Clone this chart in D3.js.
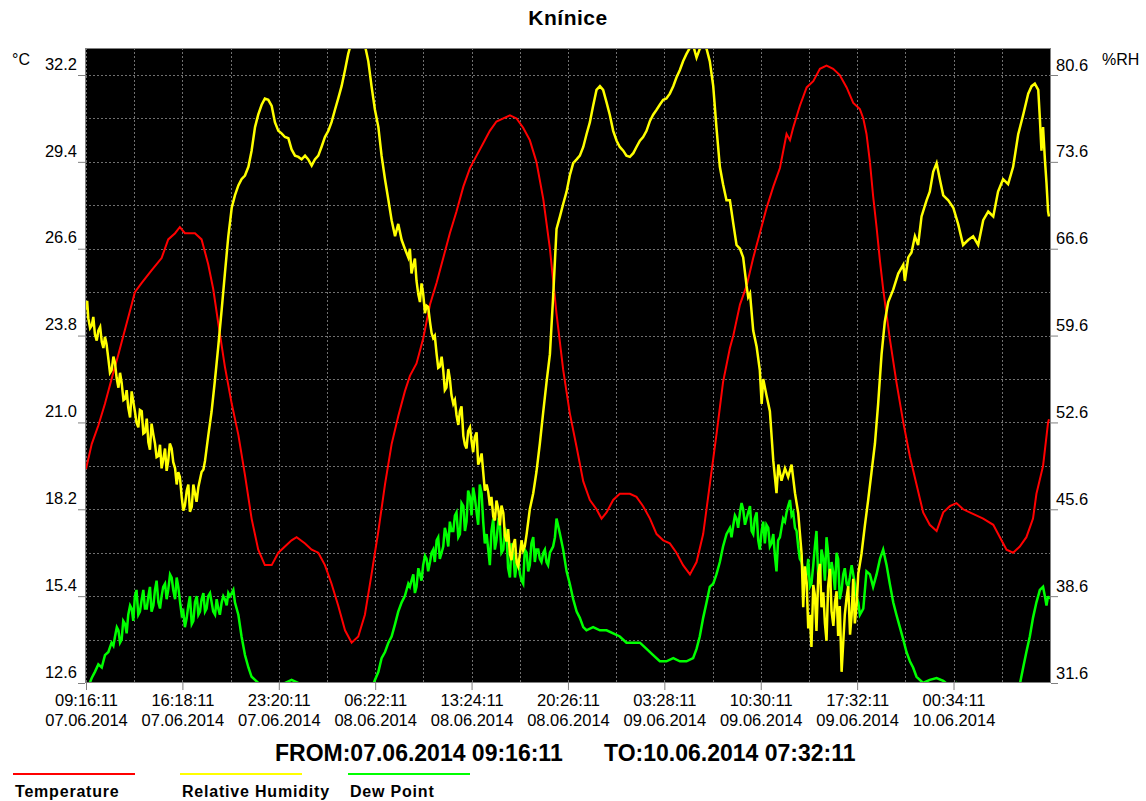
<!DOCTYPE html>
<html>
<head>
<meta charset="utf-8">
<script src="https://cdnjs.cloudflare.com/ajax/libs/d3/7.8.5/d3.min.js"></script>
<style>
  body { margin: 0; background: #fff; }
  text { font-family: "Liberation Sans", Arial, sans-serif; }
</style>
</head>
<body>
<script>
// chart box
var width = 1146;
var height = 801;
var plot = {left: 85, right: 1051, top: 48, bottom: 683};

// time base: readings are [minutes since start, value]
var startTime = new Date(2014, 5, 7, 9, 16, 11);
var endMinute = 4216;
var xTickMinutes = [0, 422, 844, 1266, 1688, 2110, 2532, 2954, 3376, 3798];
var tempTicks = [12.6, 15.4, 18.2, 21.0, 23.8, 26.6, 29.4, 32.2];
var rhTicks = [31.6, 38.6, 45.6, 52.6, 59.6, 66.6, 73.6, 80.6];
var seriesNames = ["Temperature", "Relative Humidity", "Dew Point"];
var seriesColors = ["#ff0000", "#ffff00", "#00ff00"];

var temperature = [
  [0,19.5],[25,20.3],[54,20.9],[83,21.6],[112,22.4],[142,23.2],[171,24.0],[200,24.8],[214,25.2],[244,25.5],
  [287,25.9],[331,26.3],[360,26.9],[390,27.1],[411,27.3],[433,27.1],[477,27.1],[506,26.9],[535,26.1],[557,25.3],
  [579,24.2],[608,22.8],[638,21.6],[667,20.6],[696,19.3],[725,17.9],[754,16.9],[783,16.4],[813,16.4],[842,16.8],
  [871,17.0],[900,17.2],[922,17.3],[959,17.1],[988,16.9],[1017,16.8],[1046,16.4],[1075,15.8],[1104,15.1],[1134,14.3],
  [1163,13.9],[1192,14.1],[1221,14.8],[1250,16.1],[1280,17.5],[1309,19.0],[1338,20.3],[1367,21.2],[1396,22.0],[1418,22.5],
  [1447,22.9],[1476,23.7],[1506,24.8],[1535,25.5],[1564,26.3],[1593,27.1],[1622,27.8],[1652,28.6],[1681,29.2],[1710,29.6],
  [1739,30.0],[1768,30.4],[1797,30.7],[1827,30.8],[1856,30.9],[1885,30.8],[1914,30.5],[1943,30.1],[1972,29.4],[2002,28.2],
  [2031,26.6],[2060,24.5],[2089,22.7],[2118,21.3],[2148,20.2],[2177,19.1],[2206,18.5],[2235,18.2],[2257,17.9],[2279,18.1],
  [2308,18.5],[2337,18.7],[2381,18.7],[2410,18.6],[2439,18.3],[2469,17.9],[2498,17.4],[2527,17.2],[2556,17.1],[2585,16.8],
  [2614,16.4],[2644,16.1],[2673,16.5],[2702,17.4],[2731,19.0],[2760,20.6],[2789,22.3],[2819,23.4],[2834,23.8],[2863,24.8],
  [2892,25.4],[2921,26.3],[2950,27.1],[2979,27.9],[3009,28.6],[3038,29.2],[3067,30.3],[3082,30.1],[3096,30.5],[3125,31.2],
  [3155,31.8],[3184,32.0],[3213,32.4],[3242,32.5],[3271,32.4],[3300,32.2],[3330,31.8],[3359,31.3],[3388,31.1],[3403,30.8],
  [3417,30.3],[3432,29.4],[3446,28.3],[3461,27.3],[3476,26.2],[3490,25.3],[3519,23.7],[3548,22.3],[3578,21.0],[3607,19.9],
  [3636,19.0],[3665,18.1],[3694,17.7],[3724,17.5],[3753,18.1],[3782,18.3],[3811,18.4],[3840,18.2],[3869,18.1],[3928,17.9],
  [3972,17.7],[4001,17.3],[4030,16.9],[4059,16.8],[4088,17.0],[4117,17.3],[4146,17.9],[4161,18.7],[4190,19.6],[4212,21.0],
  [4216,21.1]
];

var humidity = [
  [0,61.7],[10,61.0],[25,60.4],[39,59.7],[54,60.0],[69,59.1],[83,59.5],[98,57.7],[112,56.8],[127,57.4],
  [142,55.4],[156,55.8],[171,54.5],[185,53.8],[200,55.1],[214,53.5],[229,52.2],[244,53.5],[258,51.8],[273,51.0],
  [287,52.5],[302,50.9],[317,49.9],[331,48.9],[346,50.5],[360,49.5],[375,50.5],[390,48.9],[404,48.6],[419,46.6],
  [433,45.9],[448,47.6],[463,45.8],[477,46.9],[492,47.4],[506,48.6],[521,49.5],[535,51.5],[550,53.5],[565,56.1],
  [579,58.7],[594,61.7],[608,64.6],[623,67.6],[638,69.9],[652,70.9],[667,71.7],[681,72.2],[696,72.5],[711,73.2],
  [725,74.5],[740,76.4],[754,77.4],[769,78.2],[783,78.7],[798,78.6],[813,78.1],[827,76.8],[842,76.1],[856,75.9],
  [871,75.6],[886,75.5],[900,74.6],[915,74.1],[930,74.0],[944,73.8],[959,74.1],[973,73.8],[988,73.3],[1002,73.8],
  [1017,74.1],[1031,74.8],[1046,75.6],[1061,76.1],[1075,76.8],[1090,77.8],[1104,78.7],[1119,79.7],[1134,81.0],[1148,82.3],
  [1163,83.3],[1177,84.3],[1192,84.3],[1207,83.7],[1221,83.0],[1236,81.7],[1250,79.7],[1265,77.8],[1280,76.4],[1294,74.1],
  [1309,72.2],[1324,70.5],[1338,68.9],[1353,67.6],[1367,68.6],[1382,67.3],[1396,66.6],[1411,65.9],
  [5,62.4],[18,60.2],[32,61.1],[47,59.2],[62,60.3],[76,58.6],[90,58.9],[105,56.6],[120,57.9],[134,56.2],
  [149,56.6],[164,54.4],[178,55.2],[193,53.0],[207,54.3],[221,52.6],[236,53.6],[251,51.7],[266,52.9],[280,50.4],
  [295,51.6],[309,49.8],[324,50.8],[338,49.6],[353,48.7],[367,50.9],[382,49.4],[397,47.6],[411,48.2],[426,45.5],
  [441,47.1],[455,45.4],[470,47.6],[484,46.2],[499,48.0],[514,48.8],
  [1418,66.6],[1433,65.3],[1447,64.0],[1462,62.3],[1476,63.0],[1491,62.0],[1506,60.7],[1520,59.4],[1535,58.1],[1549,57.1],
  [1564,56.8],[1578,55.4],[1593,56.1],[1608,54.1],[1622,53.2],[1637,53.5],[1652,51.5],[1666,50.5],[1681,52.2],[1695,50.2],
  [1710,51.8],[1724,49.5],[1739,48.6],[1754,47.6],[1768,45.9],[1783,45.0],[1797,46.3],[1812,44.3],[1827,45.3],[1841,43.0],
  [1856,42.0],[1870,42.7],[1885,41.3],[1900,42.0],[1914,42.3],[1929,43.6],[1943,45.6],[1958,46.9],[1972,48.6],[1987,50.9],
  [2002,53.5],[2016,55.8],[2031,58.1],[2045,62.7],[2060,68.2],[2075,69.2],[2089,70.2],[2104,71.2],[2118,72.5],[2133,73.5],
  [2148,73.8],[2162,74.1],[2177,74.8],[2191,75.8],[2206,76.8],[2220,78.1],[2235,79.4],[2250,79.7],[2264,79.4],[2279,78.4],
  [2293,77.4],[2308,76.1],[2323,75.3],[2337,74.8],[2352,74.5],[2366,74.1],[2381,74.0],[2396,74.3],[2410,74.8],[2425,75.3],
  [2439,75.6],[2454,76.1],[2469,76.9],[2483,77.4],[2498,77.8],[2512,78.2],[2527,78.6],[2541,78.7],[2556,79.1],[2571,79.7],
  [2585,80.4],[2600,81.0],[2614,81.7],[2629,82.3],[2644,82.8],[2658,83.0],[2673,82.0],[2687,82.7],[2702,83.0],[2717,82.7],
  [2731,81.7],[2746,79.7],[2760,76.4],[2775,73.2],[2789,71.8],[2804,70.5],
  [1425,64.6],[1440,65.8],[1455,62.9],[1469,63.8],[1484,61.4],[1498,61.9],[1513,59.8],[1527,59.6],[1542,57.0],[1557,57.9],
  [1571,55.2],[1586,56.9],[1600,54.8],[1615,54.4],[1630,52.4],[1644,53.9],[1659,50.8],[1673,51.9],[1688,51.1],[1702,51.4],
  [1717,49.2],[1732,50.1],[1746,47.1],[1761,47.0],[1775,46.6],[1790,44.7],[1805,45.6],[1819,45.9],[1834,43.5],[1848,44.0],
  [1863,41.5],[1878,43.2],[1892,41.0],[1907,43.1],[1921,42.6],
  [2819,70.5],[2834,68.6],[2848,66.9],[2863,66.6],[2877,65.9],[2892,63.6],[2899,62.7],[2907,63.0],[2921,60.0],[2936,58.7],
  [2950,56.8],[2958,54.1],[2965,56.1],[2979,54.8],[2994,53.5],[3009,49.5],[3023,46.9],[3031,49.2],[3045,47.9],[3060,48.9],
  [3074,48.2],[3089,49.2],[3104,46.9],[3118,45.3],[3133,42.0],[3140,37.7],[3155,39.7],[3169,37.1],[3176,34.5],[3191,38.7],
  [3206,40.4],[3220,37.7],[3235,36.4],[3249,39.4],[3264,37.4],[3279,38.1],[3293,35.4],[3308,32.5],[3322,37.1],[3337,39.4],
  [3352,37.1],[3366,36.4],[3381,40.4],[3395,42.0],[3410,44.3],[3424,46.3],[3439,48.6],[3454,50.9],[3468,54.1],[3483,58.1],
  [3497,60.7],[3512,62.3],[3534,63.3],[3556,64.6],[3578,65.3],[3585,64.0],[3600,65.9],[3614,66.3],[3629,67.6],[3643,66.9],
  [3658,69.2],[3680,70.5],[3694,71.2],[3709,72.8],[3724,73.5],[3738,72.2],[3753,70.9],[3775,70.5],[3797,69.9],[3818,68.6],
  [3840,66.9],[3862,67.3],[3884,67.6],[3906,66.9],[3928,68.9],[3950,69.6],[3972,69.2],[3993,71.2],[4015,72.2],[4037,71.8],
  [4059,73.2],[4081,75.8],[4103,77.4],[4125,79.1],[4140,79.7],[4154,79.9],[4169,79.4],[4176,77.1],[4183,74.5],[4190,76.4],
  [4198,73.8],[4205,71.9],[4212,69.6],[4216,69.2],
  [3147,41.0],[3162,36.0],[3184,39.5],[3198,35.8],[3213,41.2],[3228,38.9],[3242,35.0],[3257,40.8],[3272,36.2],[3286,39.0],
  [3300,37.8],[3315,34.8],[3330,38.5],[3345,35.5],[3359,40.0],[3374,38.0]
];

var dewPoint = [
  [0,12.3],[25,12.76],[39,12.96],[54,13.2],[69,13.1],[83,13.5],[98,13.6],[112,13.9],[127,14.1],[142,14.3],
  [156,14.0],[171,14.5],[185,14.8],[200,15.0],[214,15.4],[229,14.8],[244,15.3],[258,15.0],[273,15.4],[287,14.9],
  [302,15.6],[317,15.2],[331,15.4],[346,15.8],[360,15.6],[375,16.0],[390,15.3],[404,15.7],[419,14.8],[433,14.4],
  [448,15.1],[463,14.5],[477,15.2],[492,14.8],[506,15.3],[521,14.9],[535,15.4],[550,15.2],[565,14.8],[579,15.0],
  [594,15.2],[608,15.3],[623,15.5],[638,15.5],[652,15.2],[667,14.8],[681,14.1],[696,13.5],[711,13.1],[725,12.8],
  [740,12.7],[754,12.6],[783,12.5],[813,12.55],[842,12.4],[871,12.6],[900,12.7],[930,12.6],[959,12.4],[1017,12.2],
  [1104,11.9],[1192,12.0],[1250,12.4],[1265,12.7],[1280,12.96],[1294,13.4],[1309,13.6],[1324,13.9],[1338,14.1],[1353,14.5],
  [1367,14.9],[1382,15.2],[1396,15.4],[1411,15.8],
  [120,13.8],[135,14.4],[149,13.9],[163,14.6],[178,14.2],[193,15.1],[207,14.6],[221,15.6],[236,14.9],[251,15.6],
  [266,15.0],[280,15.7],[295,15.1],[309,15.9],[324,15.0],[338,15.7],[353,15.3],[368,16.1],[382,15.6],[397,16.0],
  [412,15.2],[426,14.9],[441,14.7],[455,15.4],[470,14.6],[485,15.4],[499,14.9],[514,15.5],[528,15.0],[543,15.5],
  [557,14.9],[572,15.3],[586,14.8],[601,15.4],[616,15.1],[630,15.4],[645,15.6],
  [1418,15.7],[1433,16.1],[1447,15.7],[1462,16.1],[1476,16.4],[1491,16.6],[1506,16.5],[1520,16.9],[1535,17.2],[1549,16.6],
  [1564,17.0],[1578,17.4],[1593,17.8],[1608,17.5],[1622,18.1],[1637,17.4],[1652,18.3],[1666,17.8],[1681,18.6],[1695,18.9],
  [1710,18.1],[1724,19.0],[1739,17.8],[1754,17.4],[1768,16.4],[1783,17.9],[1797,17.2],[1812,17.7],[1827,16.9],[1841,17.4],
  [1856,16.0],[1870,16.9],[1885,16.4],[1900,16.1],[1914,15.8],[1929,16.8],[1943,16.4],[1958,17.3],[1972,16.9],[1987,16.6],
  [2002,16.8],[2016,16.5],[2031,16.8],[2045,17.0],[2060,17.9],[2075,17.4],[2089,16.9],[2104,16.2],[2118,15.8],[2133,15.3],
  [2148,14.9],[2162,14.7],[2177,14.4],[2191,14.3],[2220,14.4],[2250,14.3],[2279,14.3],[2308,14.2],[2337,14.1],[2366,13.9],
  [2396,13.9],[2425,13.9],[2454,13.7],[2483,13.5],[2512,13.3],[2541,13.3],[2571,13.4],[2600,13.3],[2629,13.3],[2658,13.4],
  [2673,13.7],[2687,14.1],[2702,14.7],[2717,15.2],[2731,15.7],[2746,15.8],[2760,16.1],[2775,16.5],[2789,17.0],[2804,17.4],
  [1425,15.9],[1440,15.5],[1455,16.3],[1469,15.9],[1484,16.7],[1498,16.2],[1513,16.8],[1527,16.5],[1542,17.3],[1557,16.8],
  [1571,17.6],[1586,17.0],[1600,17.5],[1615,18.0],[1630,17.3],[1644,18.4],[1659,17.5],[1673,18.8],[1688,18.0],[1702,18.6],
  [1717,17.7],[1732,18.7],[1746,17.1],[1761,16.9],[1775,17.5],[1790,16.9],[1805,17.8],[1819,16.8],[1834,17.6],[1848,16.3],
  [1863,17.1],[1878,16.0],[1892,16.6],[1907,15.9],[1921,16.9],[1936,16.2],[1950,17.1],[1965,16.5],[1980,16.9],[1994,16.5],
  [2009,16.9],[2023,16.4],[2038,16.9],[2053,17.3],
  [2819,17.6],[2834,17.7],[2848,17.9],[2863,18.1],[2877,18.2],[2892,17.9],[2907,18.3],[2921,17.4],[2936,18.1],[2950,16.9],
  [2965,17.8],[2979,17.7],[2994,17.0],[3009,17.4],[3023,16.2],[3038,17.3],[3052,17.9],[3067,18.1],[3082,18.5],[3096,18.1],
  [3111,17.5],[3125,16.6],[3140,16.2],[3155,16.1],[3169,15.7],[3184,16.4],[3198,17.5],[3213,15.8],[3228,16.6],[3242,17.3],
  [3257,15.7],[3271,16.2],[3286,16.8],[3300,15.3],[3315,16.1],[3330,15.8],[3344,16.0],[3359,16.1],[3373,15.4],[3388,14.8],
  [3403,15.0],[3417,16.2],[3432,16.1],[3446,15.7],[3461,16.1],[3476,16.6],[3490,16.9],[3505,16.4],[3519,15.8],[3534,15.2],
  [3548,14.8],[3563,14.4],[3578,14.0],[3592,13.6],[3607,13.3],[3621,13.1],[3636,12.8],[3665,12.6],[3694,12.7],[3724,12.76],
  [3753,12.67],[3782,12.5],[3811,12.6],[3869,12.2],[3957,11.9],[4074,12.2],[4088,12.55],[4103,13.1],[4117,13.6],[4132,14.1],
  [4146,14.7],[4161,15.2],[4176,15.6],[4190,15.7],[4198,15.4],[4205,15.1],[4212,15.4],[4216,15.3],
  [2826,17.3],[2841,18.0],[2855,17.6],[2870,18.4],[2885,17.7],[2899,18.1],[2914,17.5],[2928,17.9],[2943,17.2],[2958,17.5],
  [2972,17.1],[2987,17.6],[3001,17.1],[3016,16.7],[3030,17.2],[3045,17.6],[3060,17.8],[3074,18.3],[3089,18.0],[3104,17.6],
  [3118,17.0],[3133,16.5],[3147,15.8],[3162,16.6],[3176,15.8],[3191,17.0],[3206,16.0],[3220,16.9],[3235,15.9],[3249,16.8],
  [3264,16.5],[3279,15.6],[3293,16.6],[3308,15.6],[3322,16.3],[3337,15.7],[3352,16.4],[3366,15.8],[3381,15.2]
];

var byTime = function(a, b){ return a[0] - b[0]; };
humidity.sort(byTime);
dewPoint.sort(byTime);

var minuteToDate = function(m){
  return d3.timeMinute.offset(startTime, m);
};

var svg = d3.select('body').append('svg')
            .attr('width', width)
            .attr('height', height)
            .style('background-color', '#fff');

var x = d3.scaleTime()
          .domain([startTime, minuteToDate(endMinute)])
          .range([86, 1049]);
var yTemp = d3.scaleLinear().domain([12.6, 32.2]).range([683, 75]);
var yRh = d3.scaleLinear().domain([31.6, 80.6]).range([683, 75]);

// black plot area
svg.append('rect')
   .attr('x', plot.left)
   .attr('y', plot.top)
   .attr('width', plot.right - plot.left)
   .attr('height', plot.bottom - plot.top)
   .attr('fill', '#000');

svg.append('clipPath').attr('id', 'clip')
   .append('rect')
   .attr('x', plot.left)
   .attr('y', plot.top)
   .attr('width', plot.right - plot.left)
   .attr('height', plot.bottom - plot.top);

// dotted grid, half-steps of the ticks
var grid = svg.append('g')
              .attr('stroke', '#707070')
              .attr('stroke-width', 1)
              .attr('stroke-dasharray', '2,2')
              .attr('clip-path', 'url(#clip)');

grid.selectAll('line.v')
    .data(d3.range(0, endMinute, 211))
    .enter().append('line')
    .attr('class', 'v')
    .attr('x1', function(m){ return Math.round(x(minuteToDate(m))) + 0.5; })
    .attr('x2', function(m){ return Math.round(x(minuteToDate(m))) + 0.5; })
    .attr('y1', plot.top)
    .attr('y2', plot.bottom);

grid.selectAll('line.h')
    .data(d3.range(0, 15))
    .enter().append('line')
    .attr('class', 'h')
    .attr('x1', plot.left)
    .attr('x2', plot.right)
    .attr('y1', function(k){ return Math.round(yTemp(12.6 + 1.4 * k)) + 0.5; })
    .attr('y2', function(k){ return Math.round(yTemp(12.6 + 1.4 * k)) + 0.5; });

// series
var lineFor = function(yScale){
  return d3.line()
           .x(function(d){ return x(minuteToDate(d[0])); })
           .y(function(d){ return yScale(d[1]); });
};

var lines = svg.append('g').attr('clip-path', 'url(#clip)')
               .attr('fill', 'none')
               .attr('stroke-linejoin', 'miter');

lines.append('path').datum(dewPoint)
     .attr('stroke', seriesColors[2])
     .attr('stroke-width', 2.5)
     .attr('d', lineFor(yTemp));
lines.append('path').datum(temperature)
     .attr('stroke', seriesColors[0])
     .attr('stroke-width', 2)
     .attr('d', lineFor(yTemp));
lines.append('path').datum(humidity)
     .attr('stroke', seriesColors[1])
     .attr('stroke-width', 2.5)
     .attr('d', lineFor(yRh));

// frame
svg.append('rect')
   .attr('x', plot.left + 0.5)
   .attr('y', plot.top + 0.5)
   .attr('width', plot.right - plot.left - 1)
   .attr('height', plot.bottom - plot.top - 1)
   .attr('fill', 'none')
   .attr('stroke', '#808080');

var styleAxis = function(g){
  g.select('.domain').remove();
  g.selectAll('line').attr('stroke', '#808080');
  g.selectAll('text')
   .attr('fill', '#000')
   .style('font-size', '16.5px')
   .style('font-family', '"Liberation Sans", Arial, sans-serif');
};

svg.append('g')
   .attr('transform', 'translate(' + plot.left + ',0)')
   .call(d3.axisLeft(yTemp).tickValues(tempTicks).tickSize(7).tickPadding(1).tickFormat(d3.format('.1f')))
   .call(styleAxis)
   .selectAll('text').attr('dy', '-0.35em');

svg.append('g')
   .attr('transform', 'translate(' + plot.right + ',0)')
   .call(d3.axisRight(yRh).tickValues(rhTicks).tickSize(7).tickPadding(-2).tickFormat(d3.format('.1f')))
   .call(styleAxis)
   .selectAll('text').attr('dy', '-0.3em');

var timeFmt = d3.timeFormat('%H:%M:%S');
var dateFmt = d3.timeFormat('%d.%m.%Y');

var xAxis = svg.append('g')
   .attr('transform', 'translate(0,' + plot.bottom + ')')
   .call(d3.axisBottom(x).tickValues(xTickMinutes.map(minuteToDate)).tickSize(7).tickFormat(''))
   .call(styleAxis);

xAxis.selectAll('.tick text').each(function(d){
  var t = d3.select(this).attr('y', 0).attr('dy', null);
  t.append('tspan').attr('x', 0).attr('y', 23).text(timeFmt(d));
  t.append('tspan').attr('x', 0).attr('y', 43).text(dateFmt(d));
});

// units and title
svg.append('text').attr('x', 12).attr('y', 65)
   .style('font-size', '16px').text('°C');
svg.append('text').attr('x', 1102).attr('y', 65)
   .style('font-size', '16px').text('%RH');
svg.append('text').attr('x', 568).attr('y', 25)
   .attr('text-anchor', 'middle')
   .style('font-size', '21px').style('font-weight', 'bold')
   .style('letter-spacing', '0.5px')
   .text('Knínice');

var fullFmt = d3.timeFormat('%d.%m.%Y %H:%M:%S');
svg.append('text').attr('x', 275).attr('y', 761)
   .style('font-size', '23px').style('font-weight', 'bold')
   .text('FROM:' + fullFmt(startTime));
svg.append('text').attr('x', 604).attr('y', 761)
   .style('font-size', '23px').style('font-weight', 'bold')
   .text('TO:' + fullFmt(minuteToDate(endMinute)));

// legend
var legendX = [13, 180, 348];
var legend = svg.selectAll('g.legend')
                .data(seriesNames)
                .enter().append('g')
                .attr('class', 'legend')
                .attr('transform', function(d, i){ return 'translate(' + legendX[i] + ',0)'; });
legend.append('line')
      .attr('x1', 0).attr('x2', 122)
      .attr('y1', 774).attr('y2', 774)
      .attr('stroke-width', 2)
      .attr('stroke', function(d, i){ return seriesColors[i]; });
legend.append('text')
      .attr('x', 2).attr('y', 797)
      .style('font-size', '16px').style('font-weight', 'bold')
      .style('letter-spacing', '0.8px')
      .text(function(d){ return d; });
</script>
</body>
</html>
